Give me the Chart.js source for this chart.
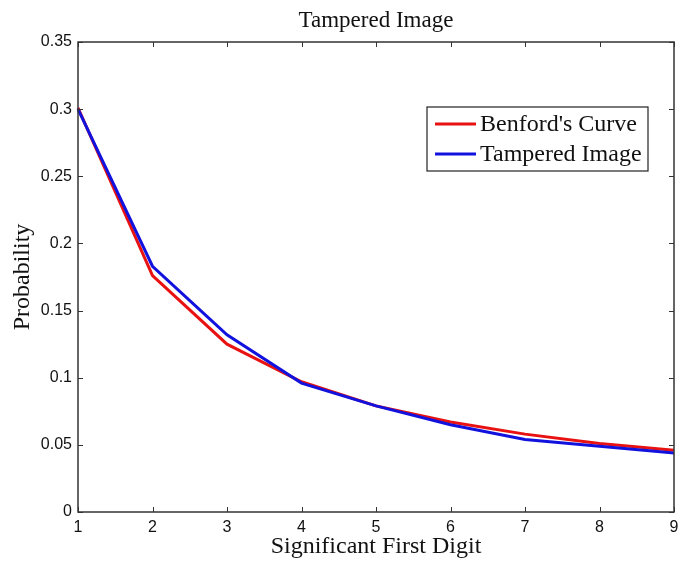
<!DOCTYPE html>
<html>
<head>
<meta charset="utf-8">
<script src="https://cdn.jsdelivr.net/npm/chart.js@4/dist/chart.umd.min.js"></script>
<style>
html,body{margin:0;padding:0;background:#fff;}
#wrap{width:694px;height:562px;}
</style>
</head>
<body>
<div id="wrap"><canvas id="c" width="694" height="562"></canvas></div>
<script>
const digits = ['1','2','3','4','5','6','7','8','9'];
const benford = [0.301, 0.176, 0.125, 0.097, 0.079, 0.067, 0.058, 0.051, 0.046];
const tampered = [0.300, 0.183, 0.132, 0.096, 0.079, 0.065, 0.054, 0.049, 0.044];
const seriesNames = ["Benford's Curve", "Tampered Image"];
const chartTitle = 'Tampered Image';
const xTitle = 'Significant First Digit';
const yTitle = 'Probability';

const serif = '"Liberation Serif", "Times New Roman", serif';

const boxPlugin = {
  id: 'boxPlugin',
  afterDraw(chart) {
    const ctx = chart.ctx;
    const a = chart.chartArea;
    const xs = chart.scales.x, ys = chart.scales.y;
    ctx.save();
    ctx.strokeStyle = '#333';
    ctx.lineWidth = 1.5;
    ctx.strokeRect(a.left, a.top, a.right - a.left, a.bottom - a.top);
    ctx.lineWidth = 1;
    const t = 5;
    ctx.beginPath();
    xs.ticks.forEach((tk, i) => {
      const px = Math.round(xs.getPixelForTick(i)) + 0.5;
      ctx.moveTo(px, a.bottom); ctx.lineTo(px, a.bottom - t);
      ctx.moveTo(px, a.top); ctx.lineTo(px, a.top + t);
    });
    ys.ticks.forEach((tk) => {
      const py = Math.round(ys.getPixelForValue(tk.value)) + 0.5;
      ctx.moveTo(a.left, py); ctx.lineTo(a.left + t, py);
      ctx.moveTo(a.right, py); ctx.lineTo(a.right - t, py);
    });
    ctx.stroke();

    // titles
    ctx.fillStyle = '#111';
    ctx.textAlign = 'center';
    ctx.textBaseline = 'middle';
    ctx.font = '23px ' + serif;
    ctx.fillText(chartTitle, (a.left + a.right) / 2, 21);
    ctx.font = '24px ' + serif;
    ctx.fillText(xTitle, (a.left + a.right) / 2, 547);
    ctx.save();
    ctx.translate(23, (a.top + a.bottom) / 2);
    ctx.rotate(-Math.PI / 2);
    ctx.fillText(yTitle, 0, 0);
    ctx.restore();

    // legend
    const lx = 427, ly = 107, lw = 221, lh = 64;
    ctx.fillStyle = '#fff';
    ctx.fillRect(lx, ly, lw, lh);
    ctx.strokeStyle = '#222';
    ctx.lineWidth = 1.2;
    ctx.strokeRect(lx, ly, lw, lh);
    ctx.font = '24px ' + serif;
    ctx.textAlign = 'left';
    chart.data.datasets.forEach((ds, i) => {
      const cy = ly + 17 + i * 30;
      ctx.strokeStyle = ds.borderColor;
      ctx.lineWidth = 3;
      ctx.beginPath();
      ctx.moveTo(435, cy); ctx.lineTo(476, cy);
      ctx.stroke();
      ctx.fillStyle = '#111';
      ctx.fillText(ds.label, 480, cy + 1);
    });
    ctx.restore();
  }
};

new Chart(document.getElementById('c'), {
  type: 'line',
  data: {
    labels: digits,
    datasets: [
      { label: seriesNames[0], data: benford, borderColor: 'rgb(232,18,18)', borderWidth: 3, pointRadius: 0, fill: false, tension: 0, order: 2 },
      { label: seriesNames[1], data: tampered, borderColor: 'rgb(18,18,222)', borderWidth: 3, pointRadius: 0, fill: false, tension: 0, order: 1 }
    ]
  },
  options: {
    responsive: false,
    animation: false,
    layout: { padding: { left: 0, right: 20, top: 42, bottom: 0 } },
    plugins: { legend: { display: false }, title: { display: false }, tooltip: { enabled: false } },
    scales: {
      x: {
        type: 'category',
        offset: false,
        grid: { display: false, drawTicks: false },
        border: { display: false },
        ticks: { color: '#111', padding: 6, font: { family: '"Liberation Sans", Arial, sans-serif', size: 16 }, maxRotation: 0 },
        afterFit(s) { s.height = 50; }
      },
      y: {
        min: 0, max: 0.35,
        grid: { display: false, drawTicks: false },
        border: { display: false },
        ticks: {
          stepSize: 0.05, color: '#111', padding: 6,
          font: { family: '"Liberation Sans", Arial, sans-serif', size: 16 },
          callback: v => String(Number(v.toFixed(2)))
        },
        afterFit(s) { s.width = 78; }
      }
    }
  },
  plugins: [boxPlugin]
});
</script>
</body>
</html>
